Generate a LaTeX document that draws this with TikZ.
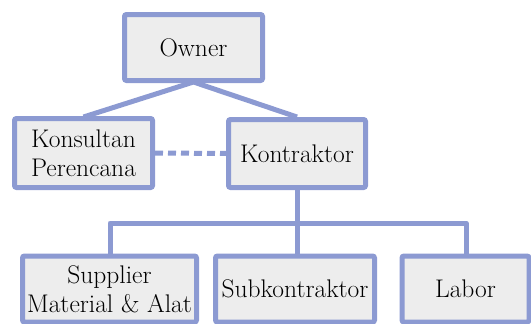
\documentclass[tikz,border=0pt]{standalone}
\usepackage{fontspec}
\usetikzlibrary{shadows}
\definecolor{linkblue}{HTML}{8C9AD2}
\definecolor{boxfill}{HTML}{EDEDED}
\begin{document}
\begin{tikzpicture}[x=1pt,y=-1pt,
  orgbox/.style={draw=linkblue, line width=5pt, fill=boxfill, rounded corners=2pt,
    align=center, font=\fontsize{25.5}{29}\selectfont, inner sep=0pt,
    drop shadow={opacity=0.25, shadow xshift=1.5pt, shadow yshift=-1.5pt}},
  link/.style={draw=linkblue, line width=5pt},
  weaklink/.style={link, dash pattern=on 8pt off 5pt}]
  \useasboundingbox (0,0) rectangle (531,324);
  % connectors
  \coordinate (ownerfoot) at (193.5,82);
  \coordinate (konsultantop) at (83.5,117);
  \coordinate (kontraktortop) at (297,117);
  \coordinate (kontraktorfoot) at (297,189);
  \coordinate (busmid) at (297,223);
  \coordinate (busleft) at (110,223);
  \coordinate (busright) at (466,223);
  \coordinate (suppliertop) at (110,254);
  \coordinate (subtop) at (297,254);
  \coordinate (labortop) at (466,254);
  \draw[link] (konsultantop) -- (ownerfoot) -- (kontraktortop);
  \draw[link] (kontraktorfoot) -- (busmid);
  \draw[link, line join=round] (suppliertop) -- (busleft) -- (busright) -- (labortop);
  \draw[link] (busmid) -- (subtop);
  % boxes
  \node[orgbox, minimum width=138pt, minimum height=66pt] (owner) at (193.5,47.5) {Owner};
  \node[orgbox, minimum width=138pt, minimum height=69pt] (konsultan) at (83.5,153) {Konsultan\\Perencana};
  \node[orgbox, minimum width=137pt, minimum height=68pt] (kontraktor) at (297,153.5) {Kontraktor};
  \node[orgbox, minimum width=174pt, minimum height=66pt] (supplier) at (109.5,289) {Supplier\\Material \& Alat};
  \node[orgbox, minimum width=159pt, minimum height=66pt] (subkon) at (295,289) {Subkontraktor};
  \node[orgbox, minimum width=127pt, minimum height=66pt] (labor) at (465.5,289) {Labor};
  \draw[weaklink] (konsultan.east) -- (kontraktor.west);
\end{tikzpicture}
\end{document}
